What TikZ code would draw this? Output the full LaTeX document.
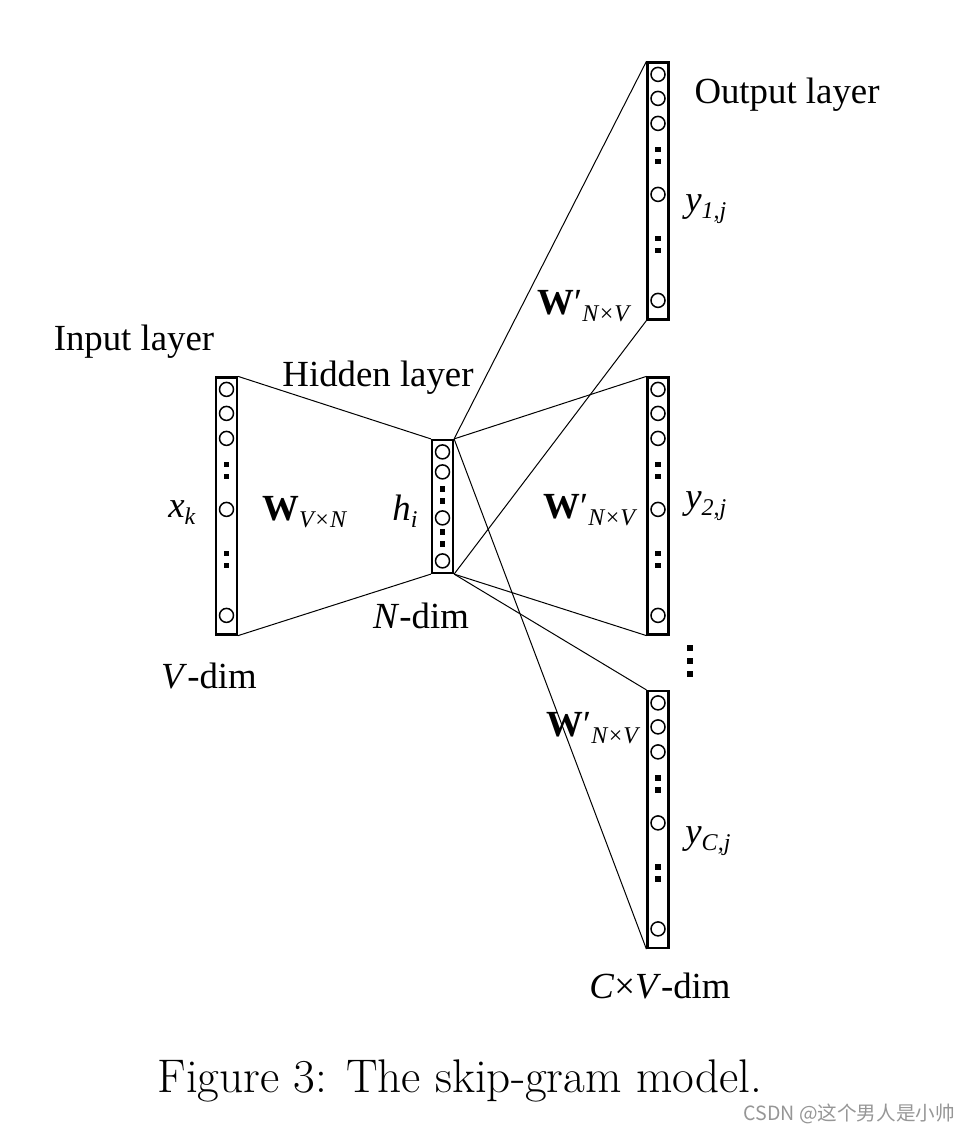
\documentclass[tikz,border=0pt]{standalone}
\usepackage{fontspec}
\usepackage{tikz}
\usetikzlibrary{calc}
\newfontfamily\timesfont{Liberation Serif}
\newfontfamily\cjkfont{Noto Sans CJK SC}
\definecolor{markgray}{RGB}{150,150,150}
% lowered, smaller italic text for subscripts
\newcommand{\lsub}[1]{\raisebox{-3.5pt}{\fontsize{12}{12}\selectfont\mdseries\itshape #1}}

\begin{document}
\begin{tikzpicture}[x=0.5pt, y=-0.5pt]
        % Specifies the sizes of the layer columns, in pixels of the page
        \pgfmathsetmacro{\colh}{257}
        \pgfmathsetmacro{\hidh}{133}

        \tikzset{
            layer/.style={draw, line width=1.1pt, fill=white, minimum width=10.5pt, inner sep=0pt},
            unit/.style={circle, draw, line width=0.75pt, minimum size=7pt, inner sep=0pt},
            gap/.style={fill, minimum size=2.6pt, inner sep=0pt},
            weight/.style={line width=0.5pt},
            lbl/.style={font=\timesfont\fontsize{18.4}{22}\selectfont, inner sep=0pt},
        }

        \useasboundingbox (0,0) rectangle (972,1134);

        % Layer columns
        \node[layer, minimum height=\colh*0.5pt] (inp) at (226.5,506) {};
        \node[layer, minimum height=\hidh*0.5pt] (hid) at (442.5,506.5) {};
        \node[layer, minimum height=\colh*0.5pt] (out1) at (658,191) {};
        \node[layer, minimum height=\colh*0.5pt] (out2) at (658,506) {};
        \node[layer, minimum height=\colh*0.5pt] (out3) at (658,819.5) {};

        % Weights between the layers
        \begin{scope}[weight]
            \draw (inp.north east) -- (hid.north west);
            \draw (inp.south east) -- (hid.south west);
            \draw (hid.north east) -- (out1.north west);
            \draw (hid.south east) -- (out1.south west);
            \draw (hid.north east) -- (out2.north west);
            \draw (hid.south east) -- (out2.south west);
            \draw (hid.north east) -- (out3.south west);
            \draw (hid.south east) -- (out3.north west);
        \end{scope}

        % Units inside the long columns
        \foreach \col in {inp, out1, out2, out3} {
            \begin{scope}[shift={(\col.north)}]
                \foreach \dy [count=\i] in {13,37,62,133,239}
                    \node[unit] (\col-u\i) at (0,\dy) {};
                \foreach \dy [count=\i] in {88,100,177,189}
                    \node[gap] (\col-g\i) at (0,\dy) {};
            \end{scope}
        }

        % Units inside the hidden column
        \begin{scope}[shift={(hid.north)}]
            \foreach \dy [count=\i] in {13,33,79,122}
                \node[unit] (hid-u\i) at (0,\dy) {};
            \foreach \dy [count=\i] in {50,62,93,105}
                \node[gap] (hid-g\i) at (0,\dy) {};
        \end{scope}

        % More output columns
        \foreach \dy [count=\i] in {648,661,674}
            \node[gap, minimum size=3pt] (more\i) at (690,\dy) {};

        % Labels
        \node[lbl, anchor=base] (inlbl) at (134,350) {Input layer};
        \node[lbl, anchor=base] (hidlbl) at (378,386) {Hidden layer};
        \node[lbl, anchor=base] (outlbl) at (787,104) {Output layer};
        \node[lbl, anchor=base west] (xk) at (168,517) {\itshape x\lsub{k}};
        \node[lbl, anchor=base west] (win) at (262,520) {\bfseries W\lsub{V×N}};
        \node[lbl, anchor=base west] (hi) at (392,520) {\itshape h\lsub{i}};
        \node[lbl, anchor=base] (vdim) at (209,688) {\textit{V}-dim};
        \node[lbl, anchor=base] (ndim) at (421,628) {\textit{N}-dim};
        \node[lbl, anchor=base] (cvdim) at (660,998) {\textit{C}×\textit{V}-dim};

        \node[lbl, anchor=base west] (wout1) at (537,314) {\bfseries W\mdseries′\lsub{N×V}};
        \node[lbl, anchor=base west] (wout2) at (543,518) {\bfseries W\mdseries′\lsub{N×V}};
        \node[lbl, anchor=base west] (wout3) at (546,736) {\bfseries W\mdseries′\lsub{N×V}};
        \node[lbl, anchor=base west] (y1) at (685,212) {\itshape y\lsub{1,j}};
        \node[lbl, anchor=base west] (y2) at (685,508) {\itshape y\lsub{2,j}};
        \node[lbl, anchor=base west] (yc) at (685,843) {\itshape y\lsub{C,j}};

        % Caption and mark
        \node[anchor=base, font=\fontsize{23.6}{28}\selectfont] (cap) at (460,1092) {Figure 3: The skip-gram model.};
        \node[anchor=base east, text=markgray, font=\cjkfont\fontsize{9.8}{11}\selectfont] (mark) at (962,1120) {CSDN @这个男人是小帅};

        \end{tikzpicture}
\end{document}
